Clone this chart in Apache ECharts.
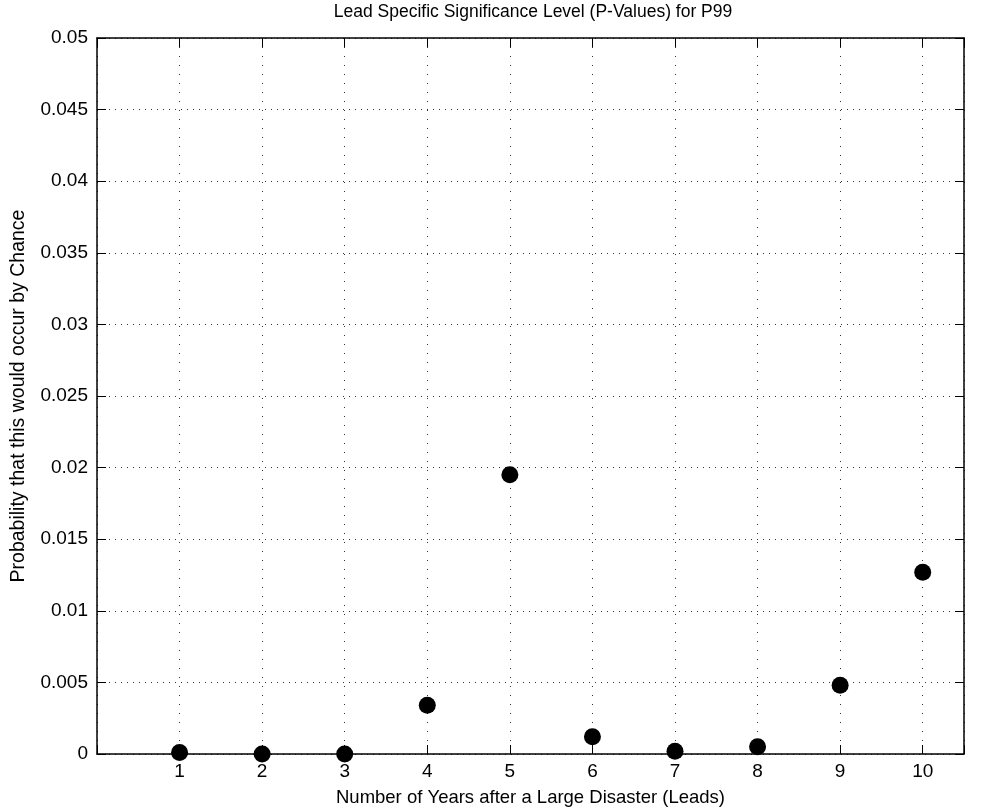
<!DOCTYPE html>
<html>
<head>
<meta charset="utf-8">
<script src="https://cdn.jsdelivr.net/npm/echarts@6/dist/echarts.min.js"></script>
<style>html,body{margin:0;padding:0;background:#fff}#c{width:997px;height:810px}</style>
</head>
<body>
<div id="c"></div>
<script>
const leads = [1, 2, 3, 4, 5, 6, 7, 8, 9, 10];
const pValues = [0.0001, 0.0, 0.0, 0.0034, 0.0195, 0.0012, 0.0002, 0.0005, 0.0048, 0.0127];
const xTickLabels = [1, 2, 3, 4, 5, 6, 7, 8, 9, 10];
const yTickLabels = ['0', '0.005', '0.01', '0.015', '0.02', '0.025', '0.03', '0.035', '0.04', '0.045', '0.05'];

const FONT = 'Liberation Sans, Arial, Helvetica, sans-serif';
const chart = echarts.init(document.getElementById('c'));
const line = () => ({ show: true, onZero: false, lineStyle: { color: '#000', width: 1.5 } });
const tick = () => ({ show: true, inside: true, length: 9, lineStyle: { color: '#000', width: 1 } });

chart.setOption({
  animation: false,
  backgroundColor: '#fff',
  title: {
    text: 'Lead Specific Significance Level (P-Values) for P99',
    left: 528, top: -2, textAlign: 'center',
    textStyle: { fontFamily: FONT, fontSize: 17.5, fontWeight: 'normal', color: '#000' }
  },
  grid: { left: 97, top: 38, right: 33, bottom: 56, containLabel: false, outerBoundsMode: 'none' },
  xAxis: [{
    type: 'value', min: 0, max: 10.5, interval: 1, position: 'bottom',
    name: 'Number of Years after a Large Disaster (Leads)',
    nameLocation: 'middle', nameGap: 34,
    nameTextStyle: { fontFamily: FONT, fontSize: 18.5, color: '#000' },
    axisLine: line(), axisTick: tick(),
    axisLabel: {
      fontFamily: FONT, fontSize: 19, color: '#000', margin: 8,
      formatter: v => xTickLabels.includes(v) ? String(v) : ''
    },
    splitLine: { show: true, lineStyle: { color: '#333', width: 1, type: [1, 8] } }
  }, {
    type: 'value', min: 0, max: 10.5, interval: 1, position: 'top',
    axisLine: line(), axisTick: tick(), axisLabel: { show: false }, splitLine: { show: false }
  }],
  yAxis: [{
    type: 'value', min: 0, max: 0.05, interval: 0.005, position: 'left',
    name: 'Probability that this would occur by Chance',
    nameLocation: 'middle', nameGap: 68, nameRotate: 90,
    nameTextStyle: { fontFamily: FONT, fontSize: 19.5, color: '#000' },
    axisLine: line(), axisTick: tick(),
    axisLabel: {
      fontFamily: FONT, fontSize: 19, color: '#000', margin: 9,
      formatter: v => yTickLabels[Math.round(v / 0.005)]
    },
    splitLine: { show: true, lineStyle: { color: '#333', width: 1, type: [1, 5] } }
  }, {
    type: 'value', min: 0, max: 0.05, interval: 0.005, position: 'right',
    axisLine: line(), axisTick: tick(), axisLabel: { show: false }, splitLine: { show: false }
  }],
  series: [{
    type: 'scatter',
    data: leads.map((x, i) => [x, pValues[i]]),
    symbol: 'circle', symbolSize: 17,
    itemStyle: { color: '#000', opacity: 1 },
    clip: false
  }]
});
</script>
</body>
</html>
